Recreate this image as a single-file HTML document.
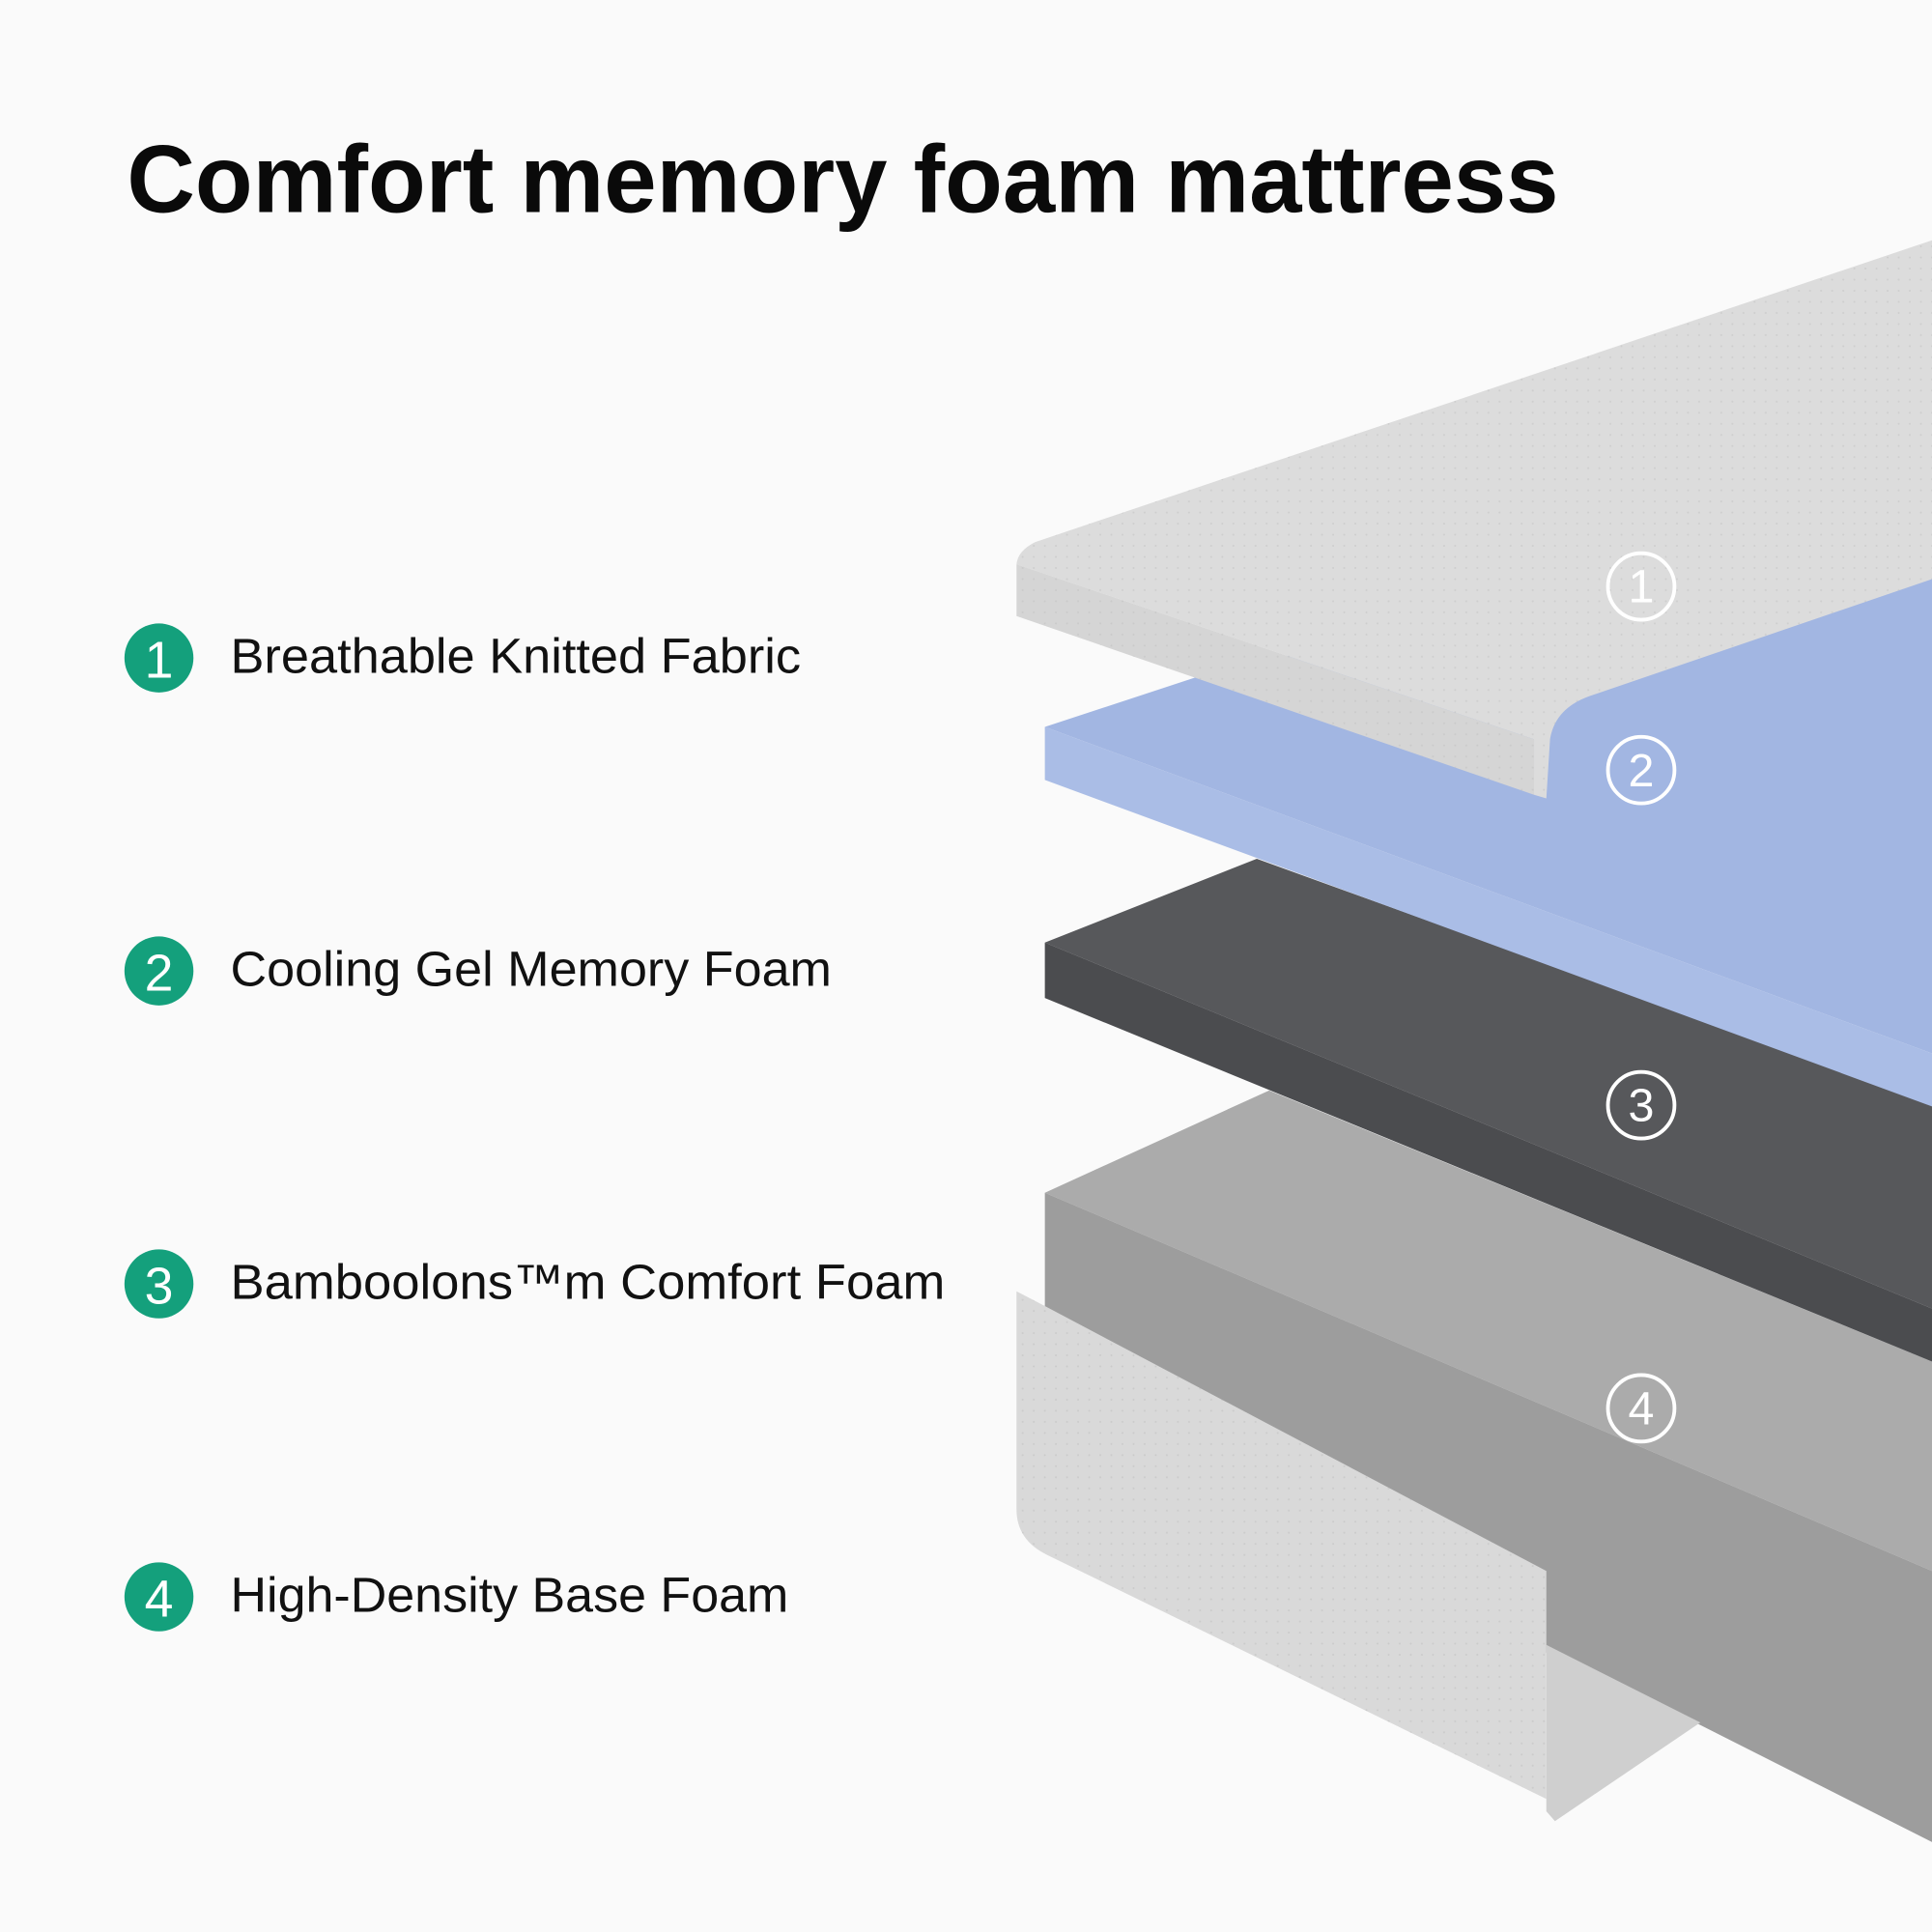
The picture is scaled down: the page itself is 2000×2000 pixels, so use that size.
<!DOCTYPE html>
<html><head><meta charset="utf-8"><style>
html,body{margin:0;padding:0;background:#fafafa}
svg{display:block}
text{font-family:"Liberation Sans",Arial,sans-serif}
</style></head><body>
<svg width="2000" height="2000" viewBox="0 0 1568 1568" xmlns="http://www.w3.org/2000/svg">
<defs>
<pattern id="dots" width="9" height="9" patternUnits="userSpaceOnUse"><circle cx="2" cy="2" r="0.8" fill="#bdbdbd"/></pattern>
</defs>
<rect width="1568" height="1568" fill="#fafafa"/>
<text x="103" y="172" font-size="78" font-weight="bold" fill="#0a0a0a" textLength="1162" lengthAdjust="spacingAndGlyphs">Comfort memory foam mattress</text>

<g font-size="40" fill="#111">
<circle cx="129" cy="534" r="28" fill="#14a07c"/><text x="129" y="550" font-size="42" fill="#fff" text-anchor="middle">1</text>
<text x="187" y="546" textLength="463" lengthAdjust="spacingAndGlyphs">Breathable Knitted Fabric</text>
<circle cx="129" cy="788" r="28" fill="#14a07c"/><text x="129" y="804" font-size="42" fill="#fff" text-anchor="middle">2</text>
<text x="187" y="800" textLength="488" lengthAdjust="spacingAndGlyphs">Cooling Gel Memory Foam</text>
<circle cx="129" cy="1042" r="28" fill="#14a07c"/><text x="129" y="1058" font-size="42" fill="#fff" text-anchor="middle">3</text>
<text x="187" y="1054" textLength="580" lengthAdjust="spacingAndGlyphs">Bamboolons™m Comfort Foam</text>
<circle cx="129" cy="1296" r="28" fill="#14a07c"/><text x="129" y="1312" font-size="42" fill="#fff" text-anchor="middle">4</text>
<text x="187" y="1308" textLength="453" lengthAdjust="spacingAndGlyphs">High-Density Base Foam</text>
</g>

<!-- layer 4 grey base -->
<polygon points="848,968 1030,885 1568,1105 1568,1275" fill="#ababab"/>
<polygon points="848,968 1568,1275 1568,1495 1380,1400 848,1150" fill="#9d9d9d"/>
<!-- inner bottom of wrap -->
<polygon points="1255,1335 1380,1398 1262,1478 1255,1470" fill="#cfcfcf"/>
<!-- fabric bottom wrap -->
<path d="M825,1048 L848,1060 L1255,1275 L1255,1460 L850,1262 Q825,1250 825,1225 Z" fill="#d9d9d9"/>
<path d="M825,1048 L848,1060 L1255,1275 L1255,1460 L850,1262 Q825,1250 825,1225 Z" fill="url(#dots)" opacity="0.5"/>

<!-- layer 3 dark -->
<polygon points="848,765 1020,697 1568,895 1568,1062" fill="#57585b"/>
<polygon points="848,765 1568,1062 1568,1105 848,810" fill="#4b4c4f"/>

<!-- layer 2 blue -->
<polygon points="848,590 1000,540 1568,440 1568,855" fill="#a2b6e2"/>
<polygon points="848,590 1568,855 1568,898 848,633" fill="#aabde6"/>

<!-- layer 1 fabric top -->
<path d="M840,440 L1568,195 L1568,470 L1290,565 Q1262,575 1258,600 L1255,648 L1245,645 L1245,600 L825,458 Q826,447 840,440 Z" fill="#dcdcdc"/>
<path d="M825,458 L1245,600 L1245,645 L825,500 Z" fill="#d5d5d5"/>
<path d="M840,440 L1568,195 L1568,470 L1290,565 Q1262,575 1258,600 L1255,648 L1245,645 L825,500 L825,458 Q826,447 840,440 Z" fill="url(#dots)" opacity="0.45"/>

<!-- circled numbers -->
<g fill="none" stroke="#fff" stroke-width="3">
<circle cx="1332" cy="476" r="27"/><circle cx="1332" cy="625" r="27"/><circle cx="1332" cy="897" r="27"/><circle cx="1332" cy="1143" r="27"/>
</g>
<g fill="#fff" font-size="38" text-anchor="middle">
<text x="1332" y="489">1</text><text x="1332" y="638">2</text><text x="1332" y="910">3</text><text x="1332" y="1156">4</text>
</g>
</svg>
</body></html>
